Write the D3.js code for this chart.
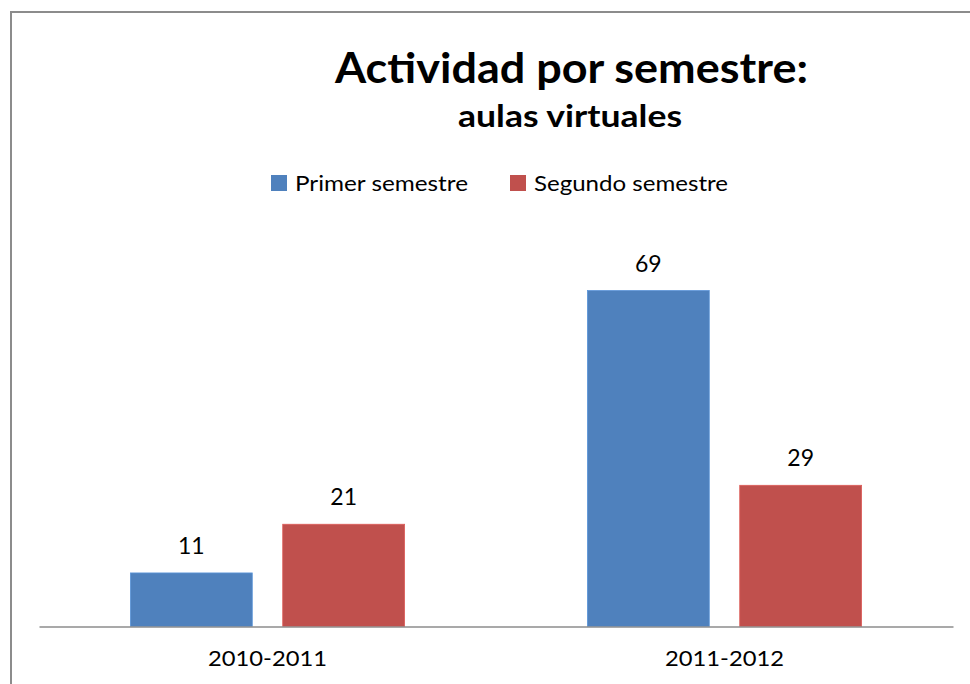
<!DOCTYPE html>
<html>
<head>
<meta charset="utf-8">
<script src="https://cdn.jsdelivr.net/npm/d3@7"></script>
<style>
  html, body { margin: 0; padding: 0; background: #fff; }
  svg { display: block; font-family: Lato, "Open Sans", sans-serif; }
</style>
</head>
<body>
<svg id="chart" width="970" height="684"></svg>
<script>
// データ
const years = ['2010-2011', '2011-2012'];
const seriesNames = ['Primer semestre', 'Segundo semestre'];
const primer = [11, 69];
const segundo = [21, 29];
const colors = ['#4F81BD', '#C0504D'];

const rows = years.map((year, i) => ({ year, values: [primer[i], segundo[i]] }));

const svg = d3.select('#chart');

// 枠線 (右と下は画像の外)
svg.append('path')
  .attr('d', 'M11,690 L11,12 L980,12')
  .attr('fill', 'none')
  .attr('stroke', '#8c8c8c')
  .attr('stroke-width', 2);

const plot = { left: 39, right: 953, top: 237, bottom: 626.5 };

const x0 = d3.scaleBand()
  .domain(years)
  .range([plot.left, plot.right])
  .padding(0);

const x1 = d3.scaleBand()
  .domain(d3.range(seriesNames.length))
  .range([0, x0.bandwidth()])
  .paddingInner(0.2)
  .paddingOuter(0.6);

const y = d3.scaleLinear()
  .domain([0, 80])
  .range([plot.bottom, plot.top]);

// Calibri風の字幅に合わせるため textLength で幅を揃える
const fitText = (sel, len) => sel.attr('textLength', len).attr('lengthAdjust', 'spacingAndGlyphs');

// タイトル
svg.append('text')
  .attr('x', 571.5).attr('y', 83)
  .attr('text-anchor', 'middle')
  .attr('font-size', 42).attr('font-weight', 'bold')
  .call(fitText, 473)
  .text('Actividad por semestre:');

svg.append('text')
  .attr('x', 570).attr('y', 127)
  .attr('text-anchor', 'middle')
  .attr('font-size', 30).attr('font-weight', 'bold')
  .call(fitText, 224)
  .text('aulas virtuales');

// 凡例
const legendX = [271, 510];
const legendLen = [173, 194];
const legend = svg.append('g');
seriesNames.forEach((name, i) => {
  const g = legend.append('g').attr('transform', `translate(${legendX[i]},175)`);
  g.append('rect').attr('width', 16).attr('height', 16).attr('fill', colors[i]);
  g.append('text')
    .attr('x', 24).attr('y', 15.5)
    .attr('font-size', 22)
    .attr('fill', '#000')
    .call(fitText, legendLen[i])
    .text(name);
});

// 棒
const groups = svg.append('g').selectAll('g')
  .data(rows)
  .join('g')
  .attr('transform', d => `translate(${x0(d.year)},0)`);

groups.selectAll('rect')
  .data(d => d.values.map((v, i) => ({ v, i })))
  .join('rect')
  .attr('x', d => x1(d.i))
  .attr('width', x1.bandwidth())
  .attr('y', d => y(d.v))
  .attr('height', d => y(0) - y(d.v))
  .attr('fill', d => colors[d.i])
  .attr('stroke', d => d3.color(colors[d.i]).brighter(0.4))
  .attr('stroke-width', 0.8);

groups.selectAll('text')
  .data(d => d.values.map((v, i) => ({ v, i })))
  .join('text')
  .attr('x', d => x1(d.i) + x1.bandwidth() / 2)
  .attr('y', d => y(d.v) - 19)
  .attr('text-anchor', 'middle')
  .attr('font-size', 23)
  .text(d => d.v);

// 軸
const xAxis = svg.append('g')
  .attr('transform', `translate(0,${plot.bottom})`)
  .call(d3.axisBottom(x0).tickSize(0).tickPadding(24));
xAxis.select('.domain').attr('stroke', '#8c8c8c').attr('stroke-width', 1.5);
xAxis.selectAll('text')
  .attr('font-family', 'Lato, "Open Sans", sans-serif')
  .attr('font-size', 22)
  .attr('fill', '#000')
  .call(fitText, 119);
</script>
</body>
</html>
